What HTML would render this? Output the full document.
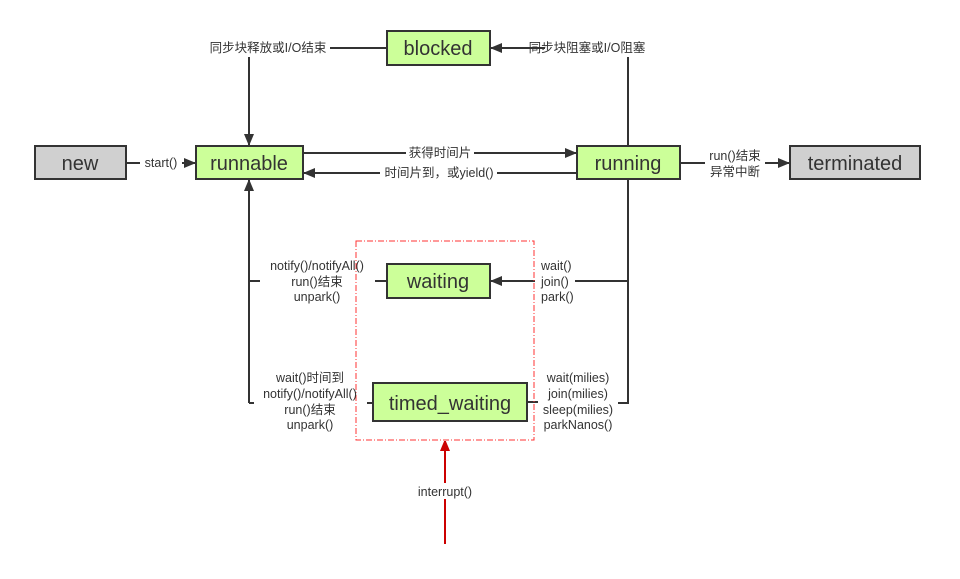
<!DOCTYPE html>
<html><head><meta charset="utf-8"><style>
body{margin:0;background:#fff}
svg text{font-family:"Liberation Sans","Noto Sans CJK SC",sans-serif;fill:#333}
.b{font-size:20px;text-anchor:middle}
.l{font-size:12.5px;text-anchor:middle}
</style></head><body>
<svg width="960" height="574" viewBox="0 0 960 574" xmlns="http://www.w3.org/2000/svg">
<defs><marker id="a" markerWidth="12" markerHeight="10" refX="11" refY="5" orient="auto" markerUnits="userSpaceOnUse"><path d="M0,0L12,5L0,10z" fill="#333"/></marker>
<marker id="r" markerWidth="10" markerHeight="12" refX="10" refY="5" orient="auto" markerUnits="userSpaceOnUse"><path d="M0,0L12,5L0,10z" fill="#c00"/></marker></defs>
<g stroke="#333" stroke-width="2" fill="none">
<line x1="126" y1="163" x2="140" y2="163"/>
<line x1="182" y1="163" x2="195" y2="163" marker-end="url(#a)"/>
<line x1="303" y1="153" x2="406" y2="153"/>
<line x1="474" y1="153" x2="576" y2="153" marker-end="url(#a)"/>
<line x1="577" y1="173" x2="497" y2="173"/>
<line x1="380" y1="173" x2="304" y2="173" marker-end="url(#a)"/>
<line x1="628" y1="146" x2="628" y2="57"/>
<line x1="545" y1="48" x2="491" y2="48" marker-end="url(#a)"/>
<line x1="386" y1="48" x2="330" y2="48"/>
<line x1="249" y1="57" x2="249" y2="145" marker-end="url(#a)"/>
<line x1="680" y1="163" x2="705" y2="163"/>
<line x1="765" y1="163" x2="789" y2="163" marker-end="url(#a)"/>
<polyline points="628,179 628,403 618,403"/>
<line x1="628" y1="281" x2="575" y2="281"/>
<line x1="535" y1="281" x2="491" y2="281" marker-end="url(#a)"/>
<line x1="527" y1="402" x2="538" y2="402"/>
<line x1="249" y1="403" x2="249" y2="180" marker-end="url(#a)"/>
<line x1="249" y1="281" x2="260" y2="281"/>
<line x1="375" y1="281" x2="386" y2="281"/>
<line x1="249" y1="403" x2="254" y2="403"/>
<line x1="367" y1="403" x2="373" y2="403"/>
</g>
<rect x="356" y="241" width="178" height="199" fill="none" stroke="#f33" stroke-width="1" stroke-dasharray="6,2,1,2"/>
<line x1="445" y1="544" x2="445" y2="441" stroke="#c00" stroke-width="2" marker-end="url(#r)"/>
<g stroke="#333" stroke-width="2">
<rect x="35" y="146" width="91" height="33" fill="#d0d0d0"/>
<rect x="196" y="146" width="107" height="33" fill="#ccff99"/>
<rect x="387" y="31" width="103" height="34" fill="#ccff99"/>
<rect x="577" y="146" width="103" height="33" fill="#ccff99"/>
<rect x="790" y="146" width="130" height="33" fill="#d0d0d0"/>
<rect x="387" y="264" width="103" height="34" fill="#ccff99"/>
<rect x="373" y="383" width="154" height="38" fill="#ccff99"/>
</g>
<text class="b" x="80" y="170">new</text>
<text class="b" x="249" y="170">runnable</text>
<text class="b" x="438" y="55">blocked</text>
<text class="b" x="628" y="170">running</text>
<text class="b" x="855" y="170">terminated</text>
<text class="b" x="438" y="288">waiting</text>
<text class="b" x="450" y="410">timed_waiting</text>
<text class="l" x="161" y="167">start()</text>
<text class="l" x="440" y="157">获得时间片</text>
<text class="l" x="439" y="177">时间片到，或yield()</text>
<text class="l" x="268" y="52">同步块释放或I/O结束</text>
<text class="l" x="587" y="52">同步块阻塞或I/O阻塞</text>
<text class="l" x="735" y="160">run()结束</text>
<text class="l" x="735" y="176">异常中断</text>
<text class="l" x="317" y="270">notify()/notifyAll()</text>
<text class="l" x="317" y="286">run()结束</text>
<text class="l" x="317" y="301">unpark()</text>
<text x="541" y="270" style="font-size:12.5px">wait()</text>
<text x="541" y="286" style="font-size:12.5px">join()</text>
<text x="541" y="301" style="font-size:12.5px">park()</text>
<text class="l" x="310" y="382">wait()时间到</text>
<text class="l" x="310" y="398">notify()/notifyAll()</text>
<text class="l" x="310" y="414">run()结束</text>
<text class="l" x="310" y="429">unpark()</text>
<text class="l" x="578" y="382">wait(milies)</text>
<text class="l" x="578" y="398">join(milies)</text>
<text class="l" x="578" y="414">sleep(milies)</text>
<text class="l" x="578" y="429">parkNanos()</text>
<rect x="410" y="483" width="70" height="16" fill="#fff"/>
<text class="l" x="445" y="496">interrupt()</text>
</svg>
</body></html>
